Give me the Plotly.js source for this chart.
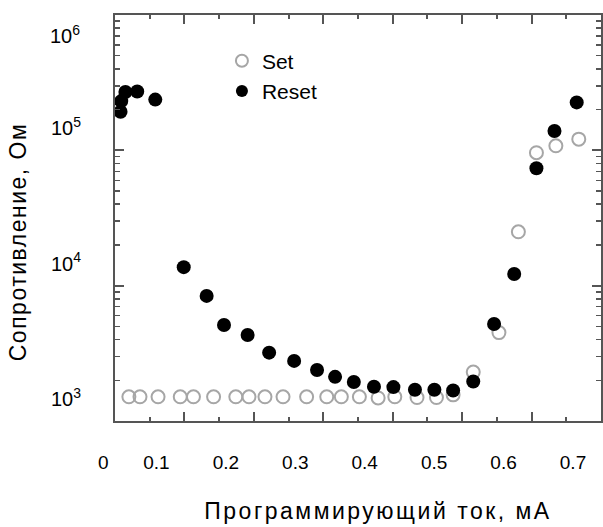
<!DOCTYPE html>
<html>
<head>
<meta charset="utf-8">
<script src="https://cdn.plot.ly/plotly-3.0.1.min.js"></script>
<style>
html,body{margin:0;padding:0;background:#fff;}
#chart{width:603px;height:527px;}
#chart .xtitle{letter-spacing:2.5px;}
#chart .ytitle{letter-spacing:1.5px;}
#chart .g-xtitle{transform:translate(20px,0px);}
#chart .g-ytitle{transform:translate(0px,24px);}
</style>
</head>
<body>
<div id="chart"></div>
<script>
// Programming current, mA
const setCurrent = [0.020, 0.036, 0.062, 0.094, 0.113, 0.142, 0.174, 0.193, 0.216, 0.242, 0.276, 0.305, 0.326, 0.352, 0.379, 0.403, 0.435, 0.463, 0.487, 0.516, 0.553, 0.581, 0.607, 0.635, 0.668];
// Resistance (Set), Ohm
const setResistance = [1510, 1510, 1510, 1510, 1510, 1510, 1510, 1510, 1510, 1510, 1510, 1510, 1510, 1510, 1480, 1510, 1490, 1490, 1560, 2300, 4500, 25000, 96000, 108000, 121000];

const resetCurrent = [0.008, 0.009, 0.015, 0.032, 0.058, 0.099, 0.132, 0.157, 0.191, 0.222, 0.258, 0.291, 0.317, 0.344, 0.373, 0.401, 0.432, 0.460, 0.487, 0.516, 0.546, 0.575, 0.607, 0.633, 0.665];
// Resistance (Reset), Ohm
const resetResistance = [193000, 231000, 270000, 272000, 237000, 13700, 8400, 5120, 4320, 3200, 2780, 2380, 2120, 1940, 1790, 1780, 1700, 1700, 1680, 1960, 5210, 12200, 73700, 139000, 226000];

const xTickVals = [0.1, 0.2, 0.3, 0.4, 0.5, 0.6, 0.7];
const xTickText = ['0.1', '0.2', '0.3', '0.4', '0.5', '0.6', '0.7'];
const yTickVals = [1e3, 1e4, 1e5, 1e6];
const yTickText = ['10<sup>3</sup>', '10<sup>4</sup>', '10<sup>5</sup>', ''];

const seriesNames = ['Set', 'Reset'];
const xTitle = 'Программирующий ток, мА';
const yTitle = 'Сопротивление, Ом';

const FONT = 'Liberation Sans, Arial, sans-serif';

const traces = [
  {
    x: setCurrent, y: setResistance, name: seriesNames[0],
    type: 'scatter', mode: 'markers',
    marker: {symbol: 'circle-open', size: 13, color: '#a6a6a6', line: {width: 2, color: '#a6a6a6'}}
  },
  {
    x: resetCurrent, y: resetResistance, name: seriesNames[1],
    type: 'scatter', mode: 'markers',
    marker: {symbol: 'circle', size: 14, color: '#000000'}
  }
];

const layout = {
  width: 603, height: 527,
  margin: {l: 115, r: 2, t: 15, b: 106},
  paper_bgcolor: '#ffffff', plot_bgcolor: '#ffffff',
  font: {family: FONT, color: '#000', size: 19},
  showlegend: true,
  legend: {
    x: 0.22, y: 0.937, xanchor: 'left', yanchor: 'top',
    bgcolor: 'rgba(0,0,0,0)', font: {family: FONT, size: 21, color: '#000'},
    itemsizing: 'constant'
  },
  xaxis: {
    range: [0, 0.7], showgrid: false, zeroline: false,
    showline: true, linecolor: '#555', linewidth: 2, mirror: 'ticks',
    ticks: 'inside', ticklen: 9, tickwidth: 2, tickcolor: '#555',
    tickvals: xTickVals, ticktext: xTickText,
    ticklabelshift: -28, ticklabelstandoff: 23,
    tickfont: {family: FONT, size: 19, color: '#000'},
    minor: {ticks: 'inside', ticklen: 4, tickwidth: 2, tickcolor: '#555', dtick: 0.05, tick0: 0.05, showgrid: false},
    title: {text: xTitle, font: {family: FONT, size: 23, color: '#000'}, standoff: 31}
  },
  yaxis: {
    type: 'log', range: [3, 6], showgrid: false, zeroline: false,
    showline: true, linecolor: '#555', linewidth: 2, mirror: 'ticks',
    ticks: 'inside', ticklen: 9, tickwidth: 2, tickcolor: '#555',
    tickvals: yTickVals, ticktext: yTickText,
    ticklabelshift: -22, ticklabelstandoff: 28,
    tickfont: {family: FONT, size: 20, color: '#000'},
    minor: {ticks: 'inside', ticklen: 5, tickwidth: 1.5, tickcolor: '#555', dtick: 'D1', showgrid: false},
    title: {text: yTitle, font: {family: FONT, size: 23, color: '#000'}, standoff: 18}
  },
  annotations: [
    {text: '0', xref: 'paper', yref: 'paper', x: (103 - 115) / 486, y: (421 - 462) / 406,
     xanchor: 'center', yanchor: 'middle', showarrow: false, font: {family: FONT, size: 19, color: '#000'}},
    {text: '10<sup>6</sup>', xref: 'paper', yref: 'paper', x: (82 - 115) / 486, y: (421 - 34) / 406,
     xanchor: 'right', yanchor: 'middle', showarrow: false, font: {family: FONT, size: 20, color: '#000'}}
  ]
};

Plotly.newPlot('chart', traces, layout, {staticPlot: true, displayModeBar: false});
</script>
</body>
</html>
